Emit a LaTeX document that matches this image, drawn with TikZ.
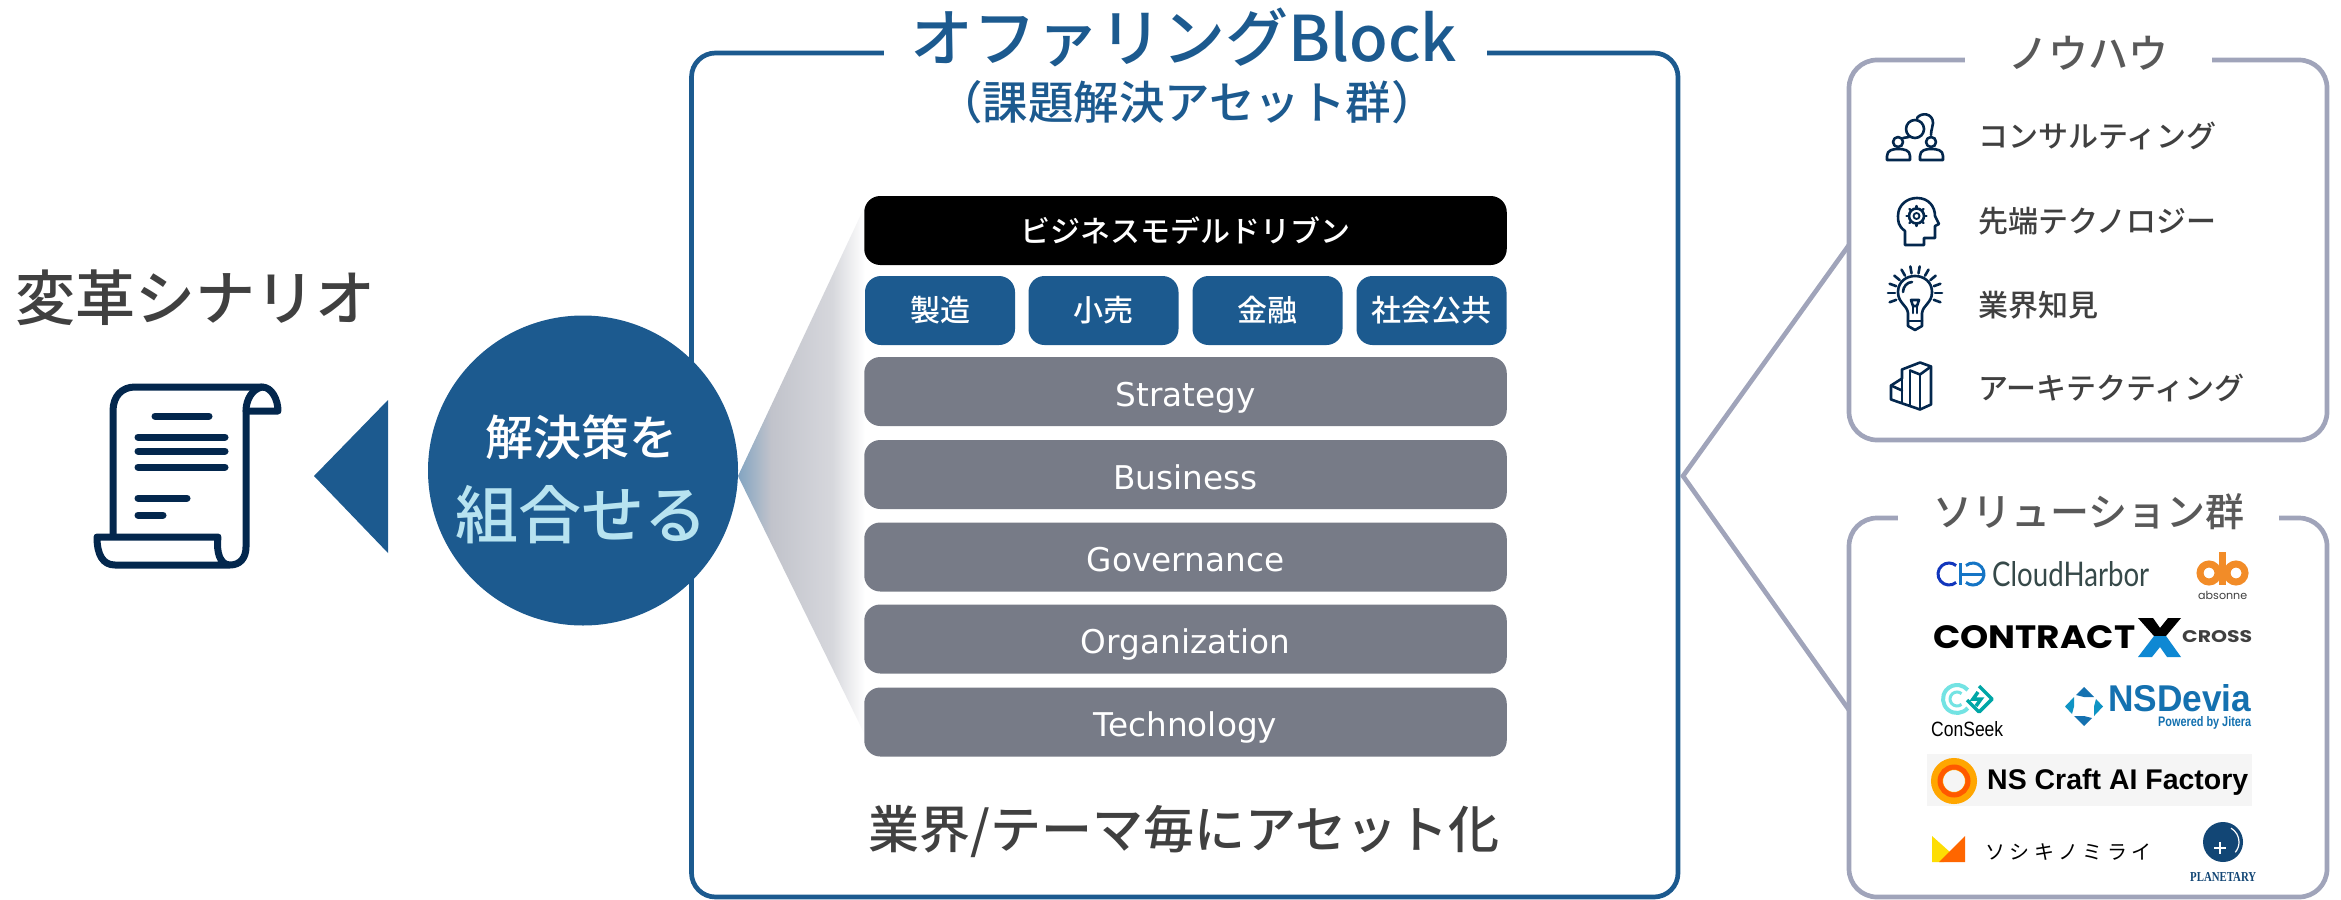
\documentclass[tikz,border=0pt]{standalone}
\usepackage{fontspec}
\usepackage{graphicx}
\setmainfont{Noto Sans CJK JP}[UprightFont=* Medium,BoldFont=* Bold]
\newfontfamily\regfont{Noto Sans CJK JP}
\newfontfamily\popfont{Poppins}
\newfontfamily\libsans{Liberation Sans}
\newfontfamily\libserif{Liberation Serif}
\newfontfamily\latofont{Lato}
\newfontfamily\dejafont{DejaVu Sans}
\newcommand{\pxf}[1]{\fontsize{#1}{#1}\selectfont}
\newcommand{\fitw}[2]{\resizebox{#1pt}{!}{#2}}
\newcommand{\fitwh}[3]{\resizebox{#1pt}{#2pt}{#3}}
\definecolor{navy}{HTML}{03274D}
\definecolor{blueb}{HTML}{1C5A8F}
\definecolor{grayb}{HTML}{777B87}
\definecolor{frame}{HTML}{A0A4BA}
\definecolor{txtd}{HTML}{404040}
\definecolor{txtm}{HTML}{595959}
\definecolor{paleb}{HTML}{B7E3F0}
\definecolor{orangeL}{HTML}{F28C28}
\definecolor{devia}{HTML}{1471B0}
\definecolor{fanmid}{HTML}{C1C3CB}
\definecolor{fanlight}{HTML}{D6D7DC}
\pgfdeclarehorizontalshading{fanshade}{100bp}{color(0bp)=(blueb!55!white); color(25bp)=(blueb!55!white); color(38bp)=(fanmid); color(62bp)=(fanlight); color(75bp)=(white); color(100bp)=(white)}
\tikzset{
  barbox/.style={rounded corners=16pt,inner sep=0pt,text=white,font=\pxf{30},minimum height=69pt},
  graybar/.style={barbox,fill=grayb,minimum width=642.5pt,font=\pxf{32.7}\dejafont,text height=29pt,text depth=0pt},
  indbox/.style={barbox,fill=blueb,minimum width=150pt},
  panel/.style={draw=frame,line width=4.7pt,fill=white,rounded corners=28pt,inner sep=0pt},
  knowtxt/.style={anchor=west,inner sep=0pt,text=txtd,font=\pxf{30}},
  gapcover/.style={fill=white,inner sep=0pt},
  iconline/.style={draw=navy,line width=2.6pt,line cap=round,line join=round},
  scrollline/.style={draw=navy,line width=7pt,line cap=round,line join=round},
  logotxt/.style={anchor=west,inner sep=0pt}
}
\begin{document}
\begin{tikzpicture}[x=1pt,y=-1pt]
\useasboundingbox (0,0) rectangle (2341,899);
% main frame
\node[draw=blueb,line width=4.7pt,fill=white,rounded corners=24pt,inner sep=0pt,minimum width=986.5pt,minimum height=844pt] (mainbox) at (1184.75,475) {};
\node[gapcover,minimum width=603pt,minimum height=12pt] (maingap) at (1185,53) {};
\node[inner sep=0pt,text=blueb,font=\pxf{63}] (title1) at (1184,37) {オファリングBlock};
\node[inner sep=0pt,text=blueb,font=\pxf{45.5}] (title2) at (1187,102) {（課題解決アセット群）};
% fan
\coordinate (fanTip) at (738,476);
\coordinate (fanTop) at (865,206);
\coordinate (fanBot) at (865,735);
\shade[shading=fanshade] (fanTip) -- (fanTop) -- (fanBot) -- cycle;
% bars
\node[barbox,fill=black,minimum width=642.5pt] (bizbar) at (1185.5,230.5) {ビジネスモデルドリブン};
\node[indbox] (ind1) at (940,310.5) {製造};
\node[indbox] (ind2) at (1103.5,310.5) {小売};
\node[indbox] (ind3) at (1267.5,310.5) {金融};
\node[indbox] (ind4) at (1431.5,310.5) {社会公共};
\node[graybar] (b1) at (1185.5,391.5) {Strategy};
\node[graybar] (b2) at (1185.5,474.5) {Business};
\node[graybar] (b3) at (1185.5,557) {Governance};
\node[graybar] (b4) at (1185.5,639) {Organization};
\node[graybar] (b5) at (1185.5,722) {Technology};
\node[inner sep=0pt,text=txtd,font=\pxf{51}] (assetize) at (1184,832) {業界/テーマ毎にアセット化};
% circle and triangle
\node[circle,fill=blueb,minimum size=310pt,inner sep=0pt] (solve) at (583,470.5) {};
\node[inner sep=0pt,text=white,font=\pxf{48}] (solve1) at (581,437) {解決策を};
\node[inner sep=0pt,text=paleb,font=\pxf{63}] (solve2) at (581,515) {組合せる};
\fill[blueb] (314,476) -- (388,400) -- (388,553) -- cycle;
\node[inner sep=0pt,text=txtd,font=\pxf{60}] (scenario) at (195,298) {変革シナリオ};
% scroll icon
\draw[scrollline] (113,535) -- (113,411) .. controls (113,396) and (122,387) .. (135,387) -- (262,387) .. controls (272,387) and (278,400) .. (278,411) -- (246,411);
\draw[scrollline] (262,387) .. controls (252,389) and (246,400) .. (246,411) -- (246,547) .. controls (246,558) and (240,565) .. (230,565) -- (115,565) .. controls (103,565) and (97,555) .. (97,537) -- (218,537) .. controls (216,552) and (220,565) .. (230,565);
\draw[scrollline] (155,416) -- (209,416);
\draw[scrollline] (138,437) -- (225,437);
\draw[scrollline] (138,451) -- (225,451);
\draw[scrollline] (138,467) -- (225,467);
\draw[scrollline] (138,498) -- (187,498);
\draw[scrollline] (138,515) -- (163,515);
% right panels
\node[panel,minimum width=478pt,minimum height=380pt] (know) at (2088,250) {};
\node[gapcover,minimum width=247pt,minimum height=12pt] (knowgap) at (2088.5,60) {};
\node[inner sep=0pt,text=txtm,font=\pxf{40}] (knowt) at (2088,53) {ノウハウ};
\node[panel,minimum width=478pt,minimum height=379pt] (sol) at (2088,707.5) {};
\node[gapcover,minimum width=381pt,minimum height=12pt] (solgap) at (2088.5,518) {};
\node[inner sep=0pt,text=txtm,font=\pxf{39}] (solt) at (2089,512) {ソリューション群};
% connectors
\coordinate (hub) at (1683,476);
\coordinate (knowEnd) at (1849,245);
\coordinate (solEnd) at (1849,710);
\draw[frame,line width=4.7pt,line join=miter] (knowEnd) -- (hub) -- (solEnd);
% know-how list
\node[knowtxt] (k1) at (1978,136) {コンサルティング};
\node[knowtxt] (k2) at (1978,221) {先端テクノロジー};
\node[knowtxt] (k3) at (1978,305) {業界知見};
\node[knowtxt] (k4) at (1978,388) {アーキテクティング};
% icon 1
\begin{scope}[shift={(-1,-1)}]
\draw[iconline] (1899,143) circle (5);
\draw[iconline] (1932,143) circle (5);
\draw[iconline] (1888,161) -- (1888,157) .. controls (1888,151) and (1894,150) .. (1899,150) .. controls (1905,150) and (1911,151) .. (1911,157) -- (1911,161) -- cycle;
\draw[iconline] (1921,161) -- (1921,157) .. controls (1921,151) and (1927,150) .. (1932,150) .. controls (1938,150) and (1944,151) .. (1944,157) -- (1944,161) -- cycle;
\draw[iconline] (1916,130) circle (9);
\draw[iconline] (1918,119) .. controls (1922,113) and (1934,114) .. (1934,124) .. controls (1934,128) and (1932,130) .. (1932,136);
\draw[iconline] (1904,139) -- (1910,138);
\end{scope}
% icon 2
\begin{scope}[shift={(-1,0)}]
\draw[iconline] (1906,245) -- (1906,231) .. controls (1899,226) and (1899,221) .. (1899,216) .. controls (1899,205) and (1908,198) .. (1918,198) .. controls (1930,198) and (1936,207) .. (1936,216) -- (1940,224) -- (1936,226) -- (1936,238) -- (1925,238) -- (1925,245) -- cycle;
\draw[iconline] (1917.5,216) circle (7.5);
\draw[iconline,line width=1.8pt] (1917.5,216) circle (3);
\foreach \a in {0,45,...,315} \draw[iconline,line width=2.4pt] (1917.5,216) ++(\a:8) -- ++(\a:2);
\end{scope}
% icon 3
\begin{scope}[shift={(-1,-3)}]
\draw[iconline] (1909,316) .. controls (1908,308) and (1899,306) .. (1899,295) .. controls (1899,285) and (1907,279) .. (1916,279) .. controls (1925,279) and (1933,285) .. (1933,295) .. controls (1933,306) and (1924,308) .. (1923,316) -- (1923,329) -- (1916,333) -- (1909,329) -- cycle;
\draw[iconline] (1909,324) -- (1923,324);
\draw[iconline] (1904,295) .. controls (1904,290) and (1908,285) .. (1913,285);
\draw[iconline] (1912,303) -- (1920,303) -- (1918,309) -- (1914,309) -- cycle;
\draw[iconline] (1914,309) -- (1914,316);
\draw[iconline] (1918,309) -- (1918,316);
\foreach \a in {-20,0,20,40,...,200} \draw[iconline] (1916,296) ++(-\a:20) -- ++(-\a:7);
\end{scope}
% icon 4
\begin{scope}[shift={(-1,-3.5)}]
\draw[iconline] (1892,403) -- (1892,389) -- (1903,382) -- (1903,373) -- (1921,366) -- (1932,370) -- (1932,408) -- (1921,413) -- cycle;
\draw[iconline] (1911,374) -- (1921,378) -- (1932,370);
\draw[iconline] (1911,374) -- (1911,408);
\draw[iconline] (1921,378) -- (1921,413);
\draw[iconline] (1903,382) -- (1903,405);
\draw[iconline] (1892,389) -- (1903,394);
\end{scope}
% logo: CloudHarbor
\draw[line width=3pt,color=blueb!60!blue] (1949,574) ++(50:11) arc (50:310:11);
\draw[line width=3pt,color=cyan!55!blue] (1973,574) ++(-130:11) arc (-130:130:11);
\draw[line width=3pt,color=cyan!55!blue] (1960,574) -- (1983,574);
\draw[line width=3pt,color=cyan!55!blue] (1960,563) -- (1960,585);
\node[logotxt,text=txtd!85!teal] (ch) at (1992,574) {\fitwh{157}{25}{\latofont CloudHarbor}};
% logo: absonne
\draw[orangeL,line width=7pt] (2209,573) circle (9);
\draw[orangeL,line width=7pt] (2236,573) circle (9);
\draw[orangeL,line width=7pt] (2222,552) -- (2222,585);
\node[logotxt,text=txtd] (ab) at (2198,595) {\fitw{49}{\popfont absonne}};
% logo: contract cross
\node[logotxt] (cc) at (1933,637.5) {\fitwh{202}{23}{\popfont\bfseries CONTRACT}};
\fill[black] (2138,618) -- (2153,618) -- (2160,628) -- (2168,618) -- (2181,618) -- (2166,636) -- (2154,636) -- cycle;
\fill[cyan!70!blue] (2154,636) -- (2166,636) -- (2181,657) -- (2167,657) -- (2160,647) -- (2152,657) -- (2138,657) -- cycle;
\node[logotxt,text=txtd] (cross) at (2182,637) {\fitwh{70}{12}{\popfont\bfseries CROSS}};
% logo: ConSeek
\draw[teal!40!cyan!55!white,line width=4pt] (1957,699) ++(40:14) arc (40:320:14);
\draw[teal!40!cyan!55!white,line width=3pt] (1957,699) ++(50:7) arc (50:310:7);
\draw[teal!70!cyan,line width=3.5pt,line join=round] (1979,686) -- (1992,699) -- (1979,712) -- (1967,700);
\draw[teal!70!cyan,line width=3.5pt] (1978,692) -- (1973,699) -- (1981,699) -- (1976,706);
\node[logotxt] (cs) at (1931,729) {\fitwh{72}{15}{\libsans ConSeek}};
% logo: NSDevia
\fill[devia] (2084,687) -- (2094,697) -- (2084,697) -- (2076,695) -- cycle;
\fill[devia!75!cyan] (2103,706.5) -- (2094,716) -- (2094,706.5) -- (2096,699) -- cycle;
\fill[devia] (2084,726) -- (2074,716) -- (2084,716) -- (2092,718) -- cycle;
\fill[devia!75!cyan] (2065,706.5) -- (2074,697) -- (2074,706.5) -- (2072,714) -- cycle;
\node[logotxt,text=devia] (nsd) at (2108,698.5) {\fitwh{143}{27}{\libsans\bfseries NSDevia}};
\node[logotxt,text=devia] (jit) at (2158,723) {\fitwh{93}{10}{\libsans\bfseries Powered by Jitera}};
% logo: NS Craft
\fill[black!4] (1927,754) rectangle (2252,806);
\draw[orange!70!yellow,line width=12pt] (1954,781) circle (17);
\draw[orange!70!red,line width=5pt] (1954,781) circle (14);
\node[logotxt] (nsc) at (1987,782) {\fitw{261}{\libsans\bfseries NS Craft AI Factory}};
% logo: soshiki
\fill[yellow!80!orange] (1932,836) -- (1951,853) -- (1944,862) -- (1932,862) -- cycle;
\fill[orange!80!red] (1965,836) -- (1965,862) -- (1939,862) -- cycle;
\node[logotxt,font=\pxf{20}\regfont] (sm) at (1985,852) {ソ\hspace{4.4pt}シ\hspace{4.4pt}キ\hspace{4.4pt}ノ\hspace{4.4pt}ミ\hspace{4.4pt}ラ\hspace{4.4pt}イ};
% logo: planetary
\node[circle,fill=blueb!60!navy,minimum size=40pt,inner sep=0pt] (pl) at (2223,842) {};
\draw[white,line width=1.5pt] (2214,848) -- (2226,848);
\draw[white,line width=1.5pt] (2220,842) -- (2220,854);
\draw[white,line width=1.2pt] (2223,842) ++(-60:16) arc (-60:40:16);
\node[logotxt,text=blueb!60!navy] (plt) at (2190,877) {\fitwh{66}{9}{\libserif\bfseries PLANETARY}};
\end{tikzpicture}
\end{document}
